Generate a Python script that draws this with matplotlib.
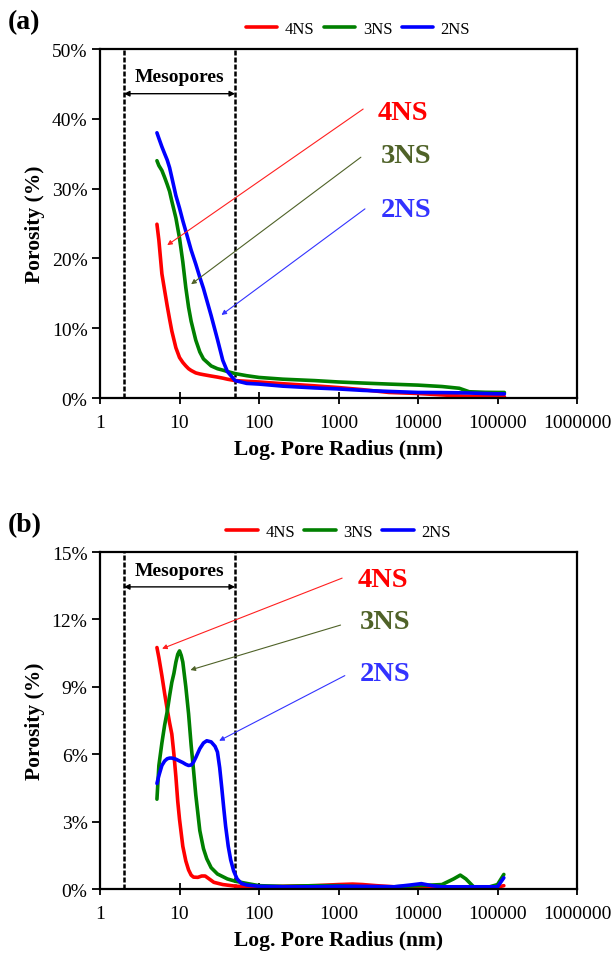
import matplotlib
matplotlib.use("Agg")
import matplotlib.pyplot as plt

plt.rcParams['font.family'] = ['Liberation Serif', 'DejaVu Serif']

# ---- panel (a) ----
xa = [5.2, 5.5, 6, 6.5, 7, 7.5, 8, 9, 10, 11, 12, 13, 14, 16, 18, 20, 25, 30, 35, 40, 50, 70,
      100, 200, 500, 1000, 2000, 4300, 10000, 20000, 33000, 44000, 70000, 100000, 122000]
a_4ns = [24.9, 22.6, 17.8, 15.4, 13.2, 11.3, 9.6, 7.2, 5.8, 5.1, 4.6, 4.2, 3.95, 3.6, 3.45, 3.35, 3.15, 3.0, 2.85, 2.7, 2.5, 2.4,
         2.3, 2.05, 1.75, 1.5, 1.2, 0.8, 0.65, 0.45, 0.3, 0.25, 0.22, 0.2, 0.2]
a_3ns = [34.0, 33.3, 32.6, 31.6, 30.6, 29.6, 28.2, 25.8, 22.9, 19.5, 15.8, 13.0, 11.0, 8.3, 6.6, 5.6, 4.6, 4.2, 4.0, 3.8, 3.5, 3.2,
         2.95, 2.7, 2.5, 2.3, 2.15, 2.0, 1.85, 1.65, 1.4, 0.9, 0.82, 0.8, 0.8]
a_2ns = [38.0, 37.2, 36.0, 35.0, 34.1, 33.0, 31.6, 29.0, 27.2, 25.4, 23.9, 22.5, 21.2, 19.2, 17.3, 15.7, 11.8, 8.4, 5.4, 3.8, 2.5, 2.1,
         2.0, 1.7, 1.45, 1.3, 1.1, 0.95, 0.8, 0.78, 0.75, 0.72, 0.65, 0.6, 0.6]

# ---- panel (b) ----
xb_4ns = [5.2, 5.5, 6, 6.5, 7, 7.5, 8, 8.5, 9, 9.5, 10, 11, 12, 13, 14, 15, 17, 19, 21, 23, 27, 35, 50, 70,
          100, 200, 500, 1000, 1500, 2000, 3000, 5000, 10000, 20000, 50000, 80000, 110000, 120000]
b_4ns = [10.75, 10.3, 9.5, 8.7, 8.0, 7.4, 6.9, 6.0, 5.0, 3.9, 3.1, 1.9, 1.25, 0.85, 0.62, 0.53, 0.52, 0.58, 0.58, 0.48, 0.3, 0.2, 0.13, 0.1,
         0.1, 0.12, 0.15, 0.2, 0.22, 0.2, 0.15, 0.1, 0.1, 0.1, 0.1, 0.1, 0.12, 0.15]
xb_3ns = [5.2, 5.5, 6, 6.5, 7, 7.5, 8, 8.5, 9, 9.5, 10, 10.5, 11, 12, 13, 14, 15, 16, 18, 20, 22, 25, 30, 40, 50, 70,
          100, 200, 500, 1000, 2000, 5000, 10000, 20000, 28000, 34000, 40000, 50000, 80000, 100000, 120000]
b_3ns = [4.0, 5.5, 6.5, 7.3, 7.9, 8.6, 9.2, 9.6, 10.1, 10.45, 10.6, 10.4, 10.1, 9.0, 7.8, 6.4, 5.3, 4.2, 2.6, 1.8, 1.35, 0.95, 0.67, 0.45, 0.35, 0.25,
         0.15, 0.12, 0.15, 0.15, 0.1, 0.1, 0.15, 0.2, 0.45, 0.62, 0.45, 0.1, 0.1, 0.2, 0.65]
xb_2ns = [5.2, 5.5, 6, 6.5, 7, 7.5, 8, 9, 10, 11, 12, 13, 14, 15, 16, 18, 20, 22, 25, 28, 30, 32, 34, 36, 38, 41, 44, 48, 53, 60, 70,
          100, 200, 500, 1000, 2000, 5000, 8000, 11000, 15000, 20000, 50000, 100000, 120000]
b_2ns = [4.7, 5.05, 5.5, 5.7, 5.8, 5.83, 5.83, 5.78, 5.7, 5.63, 5.55, 5.5, 5.52, 5.65, 5.85, 6.25, 6.5, 6.6, 6.55, 6.35, 6.1, 5.4, 4.5, 3.6, 2.8, 1.9, 1.3, 0.8, 0.45, 0.25, 0.18,
         0.12, 0.1, 0.1, 0.12, 0.12, 0.1, 0.18, 0.24, 0.15, 0.1, 0.1, 0.1, 0.5]

xticks = [1, 10, 100, 1000, 10000, 100000, 1000000]
xticklabels = ['1', '10', '100', '1000', '10000', '100000', '1000000']
names = ['4NS', '3NS', '2NS']
line_colors = ['#FF0000', '#008000', '#0000FF']
text_colors = ['#FF0000', '#4F6228', '#3333FF']
arrow_colors = ['#FF2020', '#4F6228', '#3333FF']

fig = plt.figure(figsize=(6.14, 9.62), dpi=100)
ax_a = fig.add_axes([0.1629, 0.5852, 0.7769, 0.3628])
ax_b = fig.add_axes([0.1629, 0.0748, 0.7769, 0.3503])


def style_axis(ax, ymax, ystep):
    ax.set_xscale('log')
    ax.set_xlim(1, 1000000)
    ax.set_ylim(0, ymax)
    ax.set_xticks(xticks)
    ax.set_xticklabels(xticklabels)
    ax.minorticks_off()
    yt = list(range(0, ymax + 1, ystep))
    ax.set_yticks(yt)
    ax.set_yticklabels([f'{v}%' for v in yt])
    ax.tick_params(axis='y', direction='out', length=6, width=1.3, labelsize=14, pad=3)
    ax.tick_params(axis='x', direction='inout', length=9, width=1.3, labelsize=14, pad=7)
    for s in ax.spines.values():
        s.set_linewidth(1.6)
    ax.set_xlabel('Log. Pore Radius (nm)', fontsize=15.5, fontweight='bold', labelpad=6)
    ax.set_ylabel('Porosity (%)', fontsize=15.5, fontweight='bold', labelpad=5)


def mesopores(ax, y_arrow, y_text):
    for xv in (2, 50):
        ax.axvline(xv, color='black', lw=1.8, ls=(0, (2, 0.8)), zorder=1)
    ax.annotate('', xy=(2, y_arrow), xytext=(50, y_arrow),
                arrowprops=dict(arrowstyle='<|-|>', color='black', lw=1.0,
                                mutation_scale=8, shrinkA=0, shrinkB=0))
    ax.text(10, y_text, 'Mesopores', ha='center', va='center',
            fontsize=14, fontweight='bold')


def label_arrows(ax, txt, start, end):
    for n, tc, ac, t, s, e in zip(names, text_colors, arrow_colors, txt, start, end):
        ax.text(t[0], t[1], n, color=tc, fontsize=20.5, fontweight='bold', va='center', ha='left')
        ax.annotate('', xy=e, xytext=s,
                    arrowprops=dict(arrowstyle='-|>', color=ac, lw=0.8,
                                    mutation_scale=7, shrinkA=0, shrinkB=0))


def legend(ax, cx, cy):
    ax.legend(loc='center', bbox_to_anchor=(cx, cy), bbox_transform=fig.transFigure,
              ncol=3, frameon=False, fontsize=12, handlelength=1.9, columnspacing=0.55,
              handletextpad=0.45)


# panel (a)
style_axis(ax_a, 50, 10)
mesopores(ax_a, 43.6, 46.0)
for y, n, c in zip([a_4ns, a_3ns, a_2ns], names, line_colors):
    ax_a.plot(xa, y, color=c, lw=2.6, label=n, solid_capstyle='round')
label_arrows(ax_a,
             [(3130, 40.9), (3400, 34.7), (3400, 27.0)],
             [(2040, 41.4), (1910, 34.5), (2150, 27.1)],
             [(7.0, 21.9), (14.0, 16.3), (33.7, 11.9)])
legend(ax_a, 0.583, 0.969)

# panel (b)
style_axis(ax_b, 15, 3)
mesopores(ax_b, 13.45, 14.2)
for xs, y, n, c in zip([xb_4ns, xb_3ns, xb_2ns], [b_4ns, b_3ns, b_2ns], names, line_colors):
    ax_b.plot(xs, y, color=c, lw=2.6, label=n, solid_capstyle='round')
label_arrows(ax_b,
             [(1760, 13.8), (1850, 11.9), (1850, 9.6)],
             [(1110, 13.84), (1060, 11.75), (1200, 9.5)],
             [(6.03, 10.7), (13.7, 9.75), (31.5, 6.6)])
legend(ax_b, 0.551, 0.446)

fig.text(0.012, 0.977, '(a)', fontsize=20, fontweight='bold', va='center', ha='left')
fig.text(0.012, 0.454, '(b)', fontsize=20, fontweight='bold', va='center', ha='left')

fig.savefig('out.png', dpi=100)
